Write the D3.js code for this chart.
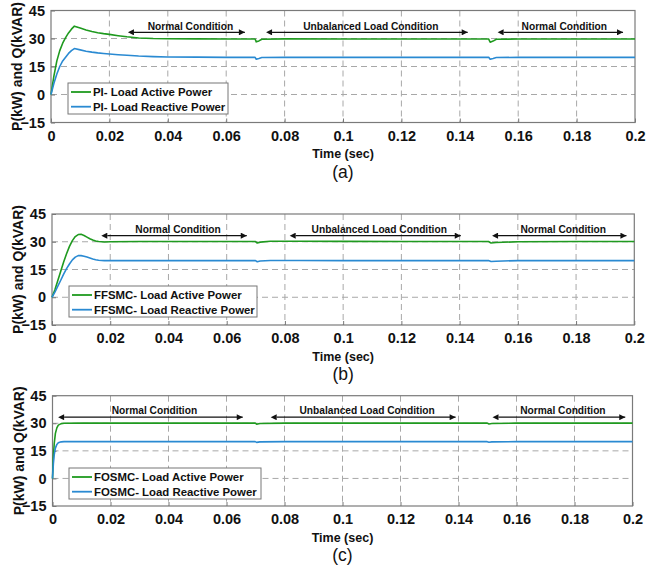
<!DOCTYPE html>
<html>
<head>
<meta charset="utf-8">
<script src="https://cdn.jsdelivr.net/npm/d3@7/dist/d3.min.js"></script>
<style>
  html, body { margin: 0; padding: 0; background: #fff; }
  svg { display: block; }
  text { font-family: Arial, "Liberation Sans", sans-serif; }
</style>
</head>
<body>
<svg id="chart" width="659" height="568"></svg>
<script>
// Time axis ticks (s) and power axis ticks
const xTicks = [0, 0.02, 0.04, 0.06, 0.08, 0.1, 0.12, 0.14, 0.16, 0.18, 0.2];
const yTicks = [-15, 0, 15, 30, 45];
const xTickLabels = ["0", "0.02", "0.04", "0.06", "0.08", "0.1", "0.12", "0.14", "0.16", "0.18", "0.2"];

// (a) PI controller
const timePI = [0, 0.001, 0.002, 0.003, 0.004, 0.005, 0.006, 0.007, 0.008, 0.010, 0.012, 0.014, 0.016, 0.018, 0.020, 0.023, 0.026, 0.030, 0.035, 0.040, 0.050, 0.060, 0.0699, 0.0703, 0.0712, 0.0722, 0.080, 0.100, 0.120, 0.140, 0.1499, 0.1504, 0.1514, 0.1525, 0.160, 0.180, 0.200];
const activePI = [0, 10, 18, 23.5, 27.5, 30.5, 33, 35, 36.6, 35.6, 34.6, 33.8, 33.1, 32.6, 32.2, 31.5, 30.9, 30.3, 30.0, 29.9, 29.8, 29.7, 29.7, 28.2, 28.7, 29.6, 29.8, 29.7, 29.7, 29.7, 29.7, 28.0, 28.6, 29.6, 29.7, 29.7, 29.7];
const reactivePI = [0, 6, 11, 15, 18, 20, 22, 23.5, 24.6, 23.9, 23.2, 22.7, 22.3, 22.0, 21.7, 21.3, 21.0, 20.6, 20.3, 20.1, 20.0, 19.9, 19.9, 18.9, 19.3, 19.8, 19.9, 19.9, 19.9, 19.9, 19.9, 18.9, 19.3, 19.8, 19.9, 19.9, 19.9];

// (b) FFSMC controller
const timeFF = [0, 0.001, 0.002, 0.003, 0.004, 0.005, 0.006, 0.007, 0.008, 0.009, 0.010, 0.011, 0.012, 0.013, 0.014, 0.015, 0.016, 0.018, 0.020, 0.030, 0.050, 0.0699, 0.0705, 0.0715, 0.075, 0.085, 0.100, 0.120, 0.140, 0.1499, 0.1508, 0.1525, 0.160, 0.180, 0.200];
const activeFF = [0, 4, 9, 14, 19, 23.5, 27.5, 30.6, 32.8, 33.9, 34.0, 33.4, 32.5, 31.6, 30.9, 30.4, 30.1, 29.9, 30.0, 30.1, 30.1, 30.1, 29.3, 29.8, 30.3, 30.3, 30.2, 30.1, 30.1, 30.1, 29.3, 29.6, 30.0, 30.1, 30.1];
const reactiveFF = [0, 2.8, 6, 9.2, 12.5, 15.5, 18, 20.2, 21.7, 22.5, 22.5, 22.2, 21.7, 21.2, 20.7, 20.3, 20.0, 19.8, 19.8, 19.8, 19.8, 19.8, 19.2, 19.6, 19.9, 19.9, 19.8, 19.8, 19.8, 19.8, 19.3, 19.5, 19.8, 19.8, 19.8];

// (c) FOSMC controller
const timeFO = [0, 0.0003, 0.0006, 0.001, 0.0015, 0.002, 0.003, 0.004, 0.010, 0.030, 0.050, 0.0699, 0.0704, 0.0715, 0.080, 0.100, 0.120, 0.140, 0.1499, 0.1505, 0.1515, 0.160, 0.180, 0.200];
const activeFO = [0, 12, 19, 24.5, 27.5, 29, 29.8, 30, 30.1, 30.1, 30.1, 30.1, 29.5, 29.9, 30.1, 30.1, 30.1, 30.1, 30.1, 29.6, 29.9, 30.1, 30.1, 30.1];
const reactiveFO = [0, 8, 13, 16.5, 18.5, 19.4, 19.9, 20, 20.0, 20.0, 20.0, 20.0, 19.6, 19.9, 20.0, 20.0, 20.0, 20.0, 20.0, 19.7, 19.9, 20.0, 20.0, 20.0];

// Operating-condition spans [start, end] in seconds, per panel
const conditionNames = ["Normal Condition", "Unbalanced Load Condition", "Normal Condition"];
const spansPI = [[0.0284, 0.0664], [0.0757, 0.1427], [0.155, 0.1959]];
const spansFF = [[0.019, 0.0669], [0.0837, 0.1404], [0.1532, 0.1973]];
const spansFO = [[0.004, 0.0656], [0.0773, 0.139], [0.1538, 0.1975]];

const legendPI = ["PI- Load Active Power", "PI- Load Reactive Power"];
const legendFF = ["FFSMC- Load Active Power", "FFSMC- Load Reactive Power"];
const legendFO = ["FOSMC- Load Active Power", "FOSMC- Load Reactive Power"];

const GREEN = "#1f9a1f";
const BLUE = "#2a8ad2";

const svg = d3.select("#chart");

// arrow-head markers
const defs = svg.append("defs");
["start", "end"].forEach(k => {
  defs.append("marker")
    .attr("id", "arrow-" + k)
    .attr("viewBox", "0 0 10 10")
    .attr("refX", k === "end" ? 10 : 0).attr("refY", 5)
    .attr("markerUnits", "userSpaceOnUse")
    .attr("markerWidth", 8).attr("markerHeight", 6)
    .attr("orient", "auto-start-reverse")
    .append("path").attr("d", "M0,0 L10,5 L0,10 z").attr("fill", "#111");
});

function drawPanel(p) {
  const x = d3.scaleLinear().domain([0, 0.2]).range([p.left, p.right]);
  const y = d3.scaleLinear().domain([-15, 45]).range([p.bottom, p.top]);
  const g = svg.append("g");

  // grid
  g.append("g").selectAll("line").data(xTicks.slice(1, -1)).join("line")
    .attr("x1", d => x(d)).attr("x2", d => x(d))
    .attr("y1", p.top).attr("y2", p.bottom)
    .attr("stroke", "#a8a8a8").attr("stroke-width", 1).attr("stroke-dasharray", "6,4");
  g.append("g").selectAll("line").data(yTicks.slice(1, -1)).join("line")
    .attr("x1", p.left).attr("x2", p.right)
    .attr("y1", d => y(d)).attr("y2", d => y(d))
    .attr("stroke", "#a8a8a8").attr("stroke-width", 1).attr("stroke-dasharray", "6,4");

  // axes (ticks inside, MATLAB style)
  const xAx = d3.axisBottom(x).tickValues(xTicks).tickSizeInner(-4).tickSizeOuter(0)
    .tickPadding(8).tickFormat((d, i) => xTickLabels[i]);
  const yAx = d3.axisLeft(y).tickValues(yTicks).tickSizeInner(-4).tickSizeOuter(0).tickPadding(6);
  const gx = g.append("g").attr("transform", `translate(0,${p.bottom})`).call(xAx);
  const gy = g.append("g").attr("transform", `translate(${p.left},0)`).call(yAx);
  [gx, gy].forEach(a => {
    a.select(".domain").remove();
    a.selectAll(".tick line").attr("stroke", "#777");
    a.selectAll("text").attr("font-size", 14.5).attr("font-weight", "bold").attr("fill", "#111");
  });

  // frame
  g.append("rect").attr("x", p.left).attr("y", p.top)
    .attr("width", p.right - p.left).attr("height", p.bottom - p.top)
    .attr("fill", "none").attr("stroke", "#7a7a7a").attr("stroke-width", 1.2);

  // series
  const line = d3.line().x(d => x(d[0])).y(d => y(d[1]));
  const series = [[p.active, GREEN], [p.reactive, BLUE]];
  series.forEach(([vals, col]) => {
    g.append("path").datum(p.time.map((t, i) => [t, vals[i]]))
      .attr("d", line).attr("fill", "none").attr("stroke", col).attr("stroke-width", 1.6)
      .attr("stroke-linejoin", "round");
  });

  // condition arrows with labels
  const arrowY = y(33.3);
  p.spans.forEach((s, i) => {
    g.append("line").attr("x1", x(s[0])).attr("x2", x(s[1]))
      .attr("y1", arrowY).attr("y2", arrowY)
      .attr("stroke", "#111").attr("stroke-width", 1.2)
      .attr("marker-start", "url(#arrow-start)").attr("marker-end", "url(#arrow-end)");
    g.append("text").attr("x", (x(s[0]) + x(s[1])) / 2 + 1).attr("y", arrowY - 2.8)
      .attr("text-anchor", "middle").attr("font-size", 10.2).attr("font-weight", "bold")
      .attr("fill", "#111").text(conditionNames[i]);
  });

  // legend
  const lg = g.append("g");
  lg.append("rect").attr("x", p.legend[0]).attr("y", p.legend[1])
    .attr("width", p.legend[2]).attr("height", 31)
    .attr("fill", "#fff").attr("stroke", "#777").attr("stroke-width", 1);
  p.legendText.forEach((t, i) => {
    const ly = p.legend[1] + 9 + i * 14.7;
    lg.append("line").attr("x1", p.legend[0] + 3).attr("x2", p.legend[0] + 23)
      .attr("y1", ly).attr("y2", ly).attr("stroke", i === 0 ? GREEN : BLUE).attr("stroke-width", 1.8);
    lg.append("text").attr("x", p.legend[0] + 25).attr("y", ly + 4.3)
      .attr("font-size", 11.4).attr("font-weight", "bold").attr("fill", "#111").text(t);
  });

  // axis titles
  g.append("text")
    .attr("transform", `translate(${p.left - 29},${(p.top + p.bottom) / 2}) rotate(-90)`)
    .attr("text-anchor", "middle").attr("font-size", 14).attr("font-weight", "bold")
    .attr("fill", "#111").text("P(kW) and Q(kVAR)");
  g.append("text").attr("x", (p.left + p.right) / 2).attr("y", p.bottom + 35.5)
    .attr("text-anchor", "middle").attr("font-size", 12.5).attr("font-weight", "bold")
    .attr("fill", "#111").text("Time (sec)");
  g.append("text").attr("x", (p.left + p.right) / 2).attr("y", p.bottom + 55)
    .attr("text-anchor", "middle").attr("font-size", 17.5)
    .attr("font-family", "'Liberation Serif', 'Times New Roman', serif")
    .attr("fill", "#111").text(p.tag);
}

drawPanel({ left: 51, right: 635, top: 10.5, bottom: 122.5, time: timePI, active: activePI, reactive: reactivePI,
  spans: spansPI, legend: [68, 83, 160], legendText: legendPI, tag: "(a)" });
drawPanel({ left: 52, right: 634.3, top: 214, bottom: 325, time: timeFF, active: activeFF, reactive: reactiveFF,
  spans: spansFF, legend: [69, 286, 188], legendText: legendFF, tag: "(b)" });
drawPanel({ left: 52.5, right: 632.5, top: 395.7, bottom: 506, time: timeFO, active: activeFO, reactive: reactiveFO,
  spans: spansFO, legend: [69, 468, 192], legendText: legendFO, tag: "(c)" });
</script>
</body>
</html>
